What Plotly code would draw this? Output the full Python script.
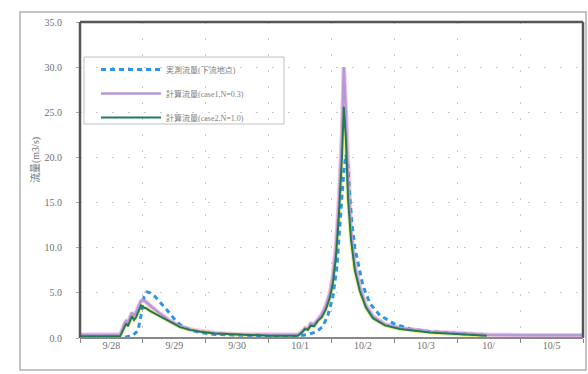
import plotly.graph_objects as go

# hours from 9/28 00:00
obs_t = [0, 17.2, 20.2, 22.1, 23.3, 24.4, 25.6, 26.7, 28.6, 30.5, 33.2, 36.3, 38.9, 42.0, 45.8, 51.5, 61.1, 70.6,
         83.9, 87.0, 90.4, 92.7, 94.6, 96.5, 98.1, 99.6, 100.7, 101.5, 102.3, 103.0, 103.8, 104.9, 106.1, 108.0,
         110.7, 114.5, 119.8, 125.9, 133.6, 145.0, 155.3]
obs_q = [0.1, 0.1, 0.3, 0.8, 2.5, 4.5, 5.1, 5.0, 4.6, 4.0, 3.1, 2.0, 1.3, 0.9, 0.6, 0.4, 0.3, 0.25,
         0.25, 0.4, 0.7, 1.3, 2.5, 4.5, 8.0, 13.5, 18.5, 20.3, 19.0, 15.5, 12.7, 10.0, 8.5, 5.8,
         3.8, 2.5, 1.6, 1.0, 0.7, 0.45, 0.3]

c_t = [0, 15.3, 16.0, 16.8, 17.6, 18.3, 19.1, 19.8, 20.6, 21.4, 22.1, 23.3, 24.0, 25.2, 26.7, 28.6, 30.5, 34.3,
       38.2, 42.0, 45.8, 51.5, 61.1, 72.5, 83.2, 84.7, 85.9, 87.0, 88.1, 89.3, 90.8, 92.3, 93.9, 95.4, 96.5,
       97.7, 98.8, 100.0, 100.7, 101.5, 102.3, 103.4, 104.9, 106.8, 109.1, 111.8, 116.4, 122.1, 133.6, 145.0, 155.3]
case2_q = [0.2, 0.2, 0.6, 1.2, 1.6, 1.3, 1.9, 2.4, 2.0, 2.3, 2.8, 3.6, 3.4, 3.3, 3.0, 2.7, 2.4, 1.8,
           1.2, 0.9, 0.7, 0.5, 0.35, 0.25, 0.25, 0.6, 1.0, 0.9, 1.4, 1.3, 1.9, 2.3, 3.2, 4.5, 6.0,
           9.0, 13.5, 20.0, 25.6, 22.0, 15.5, 11.0, 7.5, 5.2, 3.4, 2.2, 1.4, 1.0, 0.6, 0.4, 0.25]
case1_t = c_t + [170, 192]
case1_q = [0.35, 0.35, 0.8, 1.5, 1.9, 1.6, 2.3, 2.8, 2.5, 2.8, 3.3, 4.1, 4.2, 4.0, 3.6, 3.1, 2.7, 1.9,
           1.3, 0.95, 0.75, 0.55, 0.4, 0.35, 0.35, 0.7, 1.1, 1.0, 1.6, 1.5, 2.1, 2.6, 3.6, 5.0, 6.8,
           10.0, 15.0, 22.5, 30.0, 25.0, 17.5, 12.0, 8.0, 5.6, 3.6, 2.4, 1.5, 1.1, 0.7, 0.5, 0.35, 0.3, 0.3]

names = ["実測流量(下流地点)", "計算流量(case1,N=0.3)", "計算流量(case2,N=1.0)"]
day_labels = ["9/28", "9/29", "9/30", "10/1", "10/2", "10/3", "10/", "10/5"]
label_pos = [12 + 24 * i for i in range(8)]
y_ticks = [0, 5, 10, 15, 20, 25, 30, 35]

W, H = 588, 374
L, R, T, B = 80, 5, 22, 36
pw, ph = W - L - R, H - T - B

def px(x):
    return (x - L) / pw

def py(y):
    return (H - B - y) / ph

font = "Liberation Serif, Noto Sans CJK JP, serif"
fig = go.Figure()
# halos
fig.add_trace(go.Scatter(x=case1_t, y=case1_q, mode="lines", line=dict(color="#f6c2e6", width=4.5),
                         showlegend=False, hoverinfo="skip"))
fig.add_trace(go.Scatter(x=c_t, y=case2_q, mode="lines", line=dict(color="#eeee90", width=4),
                         showlegend=False, hoverinfo="skip"))
fig.add_trace(go.Scatter(x=obs_t, y=obs_q, mode="lines", name=names[0], legendgroup="a",
                         line=dict(color="#2e95e6", width=3, dash="5px,4px")))
fig.add_trace(go.Scatter(x=case1_t, y=case1_q, mode="lines", name=names[1], legendgroup="b",
                         line=dict(color="#b59ad6", width=2.5)))
fig.add_trace(go.Scatter(x=c_t, y=case2_q, mode="lines", name=names[2], legendgroup="c",
                         line=dict(color="#247a55", width=2)))

shapes = [
    # outer frame
    dict(type="rect", xref="paper", yref="paper", x0=px(20), x1=px(586), y0=py(370), y1=py(12),
         line=dict(color="#b0b0b0", width=1.5), layer="below"),
    # plot frame
    dict(type="line", xref="paper", yref="paper", x0=0, x1=0, y0=0, y1=1, line=dict(color="#555", width=2.5)),
    dict(type="line", xref="paper", yref="paper", x0=0, x1=1, y0=1, y1=1, line=dict(color="#555", width=2.5)),
    dict(type="line", xref="paper", yref="paper", x0=1, x1=1, y0=0, y1=1, line=dict(color="#555", width=2.5)),
    dict(type="line", xref="paper", yref="paper", x0=0, x1=1, y0=0, y1=0, line=dict(color="#888", width=2)),
    # legend box
    dict(type="rect", xref="paper", yref="paper", x0=px(84), x1=px(284), y0=py(124), y1=py(57),
         line=dict(color="#c0c0c0", width=1), fillcolor="white", layer="below"),
]

fig.update_layout(
    width=W, height=H, margin=dict(l=L, r=R, t=T, b=B),
    paper_bgcolor="white", plot_bgcolor="white",
    font=dict(family=font, size=10, color="#707070"),
    shapes=shapes,
    showlegend=True,
    legend=dict(x=px(96), y=py(55), xanchor="left", yanchor="top", bgcolor="rgba(0,0,0,0)",
                font=dict(size=8, color="#808080"), itemwidth=60, tracegroupgap=5),
    annotations=[dict(text="流量(m3/s)", xref="paper", yref="paper", x=px(28), y=py(160),
                      showarrow=False, textangle=-90, font=dict(size=10, color="#707070"))],
)
fig.update_xaxes(range=[0, 192], tickvals=label_pos, ticktext=day_labels, ticks="", showgrid=False,
                 zeroline=False, showline=False,
                 minor=dict(dtick=24, tick0=0, ticks="outside", ticklen=4, tickcolor="#888",
                            showgrid=True, gridcolor="#c8c8c8", griddash="2px,14px", gridwidth=1))
fig.update_yaxes(range=[0, 35], tickvals=y_ticks, tickformat=".1f", ticks="outside", ticklen=3,
                 tickcolor="#aaa", showgrid=True, gridcolor="#c8c8c8", griddash="2px,14px",
                 zeroline=False, showline=False, ticklabelstandoff=12)

fig.write_html("out.html")
